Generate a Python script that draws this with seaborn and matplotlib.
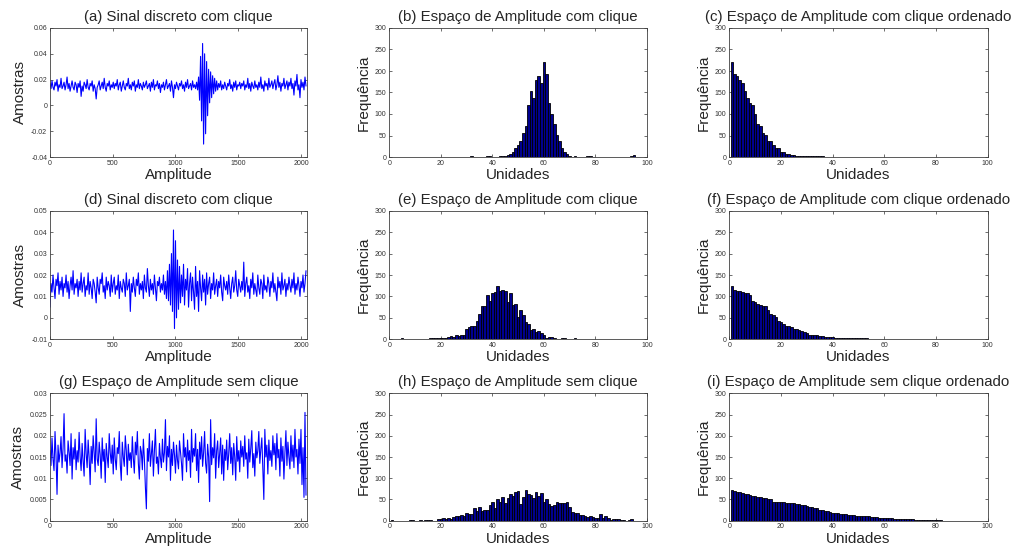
import numpy as np
import pandas as pd
import matplotlib
matplotlib.use("Agg")
import matplotlib.pyplot as plt
from matplotlib.ticker import FuncFormatter
import seaborn as sns

# ---------------- data ----------------
indice_amostra = np.arange(0, 2048, 8)

sinal_a = [
    .017,.013,.019,.014,.012,.018,.015,.020,.011,.016,.014,.021,.013,.015,.018,.012,
    .016,.022,.013,.017,.011,.015,.019,.014,.012,.018,.016,.010,.017,.014,.019,.007,
    .015,.011,.018,.016,.013,.020,.014,.012,.017,.015,.019,.011,.016,.013,.005,.014,
    .016,.019,.012,.015,.018,.013,.021,.014,.011,.017,.015,.019,.012,.016,.014,.018,
    .013,.017,.015,.020,.012,.016,.018,.011,.015,.019,.014,.012,.017,.015,.021,.013,
    .016,.012,.018,.015,.019,.011,.016,.014,.020,.013,.017,.015,.012,.018,.014,.016,
    .019,.013,.015,.017,.011,.018,.014,.020,.012,.016,.015,.019,.013,.017,.010,.016,
    .014,.018,.012,.016,.020,.013,.015,.017,.011,.019,.014,.006,.016,.013,.018,.015,
    .012,.017,.015,.019,.013,.016,.011,.018,.014,.020,.013,.015,.017,.012,.019,.014,
    .016,.013,.018,.012,.022,.004,.038,-.012,.048,-.030,.040,-.022,.034,-.008,.028,.002,
    .026,.006,.023,.009,.021,.011,.019,.012,.017,.014,.019,.012,.016,.013,.018,.015,
    .012,.017,.015,.020,.013,.016,.011,.018,.014,.019,.012,.016,.015,.018,.013,.017,
    .015,.019,.012,.016,.014,.021,.013,.017,.011,.018,.015,.013,.019,.014,.016,.012,
    .018,.014,.022,.013,.016,.011,.019,.015,.017,.012,.021,.014,.016,.019,.013,.017,
    .020,.012,.016,.023,.014,.018,.011,.017,.015,.021,.013,.016,.019,.012,.018,.015,
    .021,.013,.017,.008,.019,.015,.024,.012,.016,.006,.020,.014,.018,.012,.022,.015,
]

sinal_d = [
    .005,.016,.012,.020,.014,.009,.018,.015,.021,.011,.017,.013,.019,.010,.016,.014,
    .020,.012,.017,.009,.015,.019,.013,.022,.011,.016,.014,.018,.010,.017,.013,.021,
    .012,.016,.019,.010,.015,.013,.021,.011,.017,.014,.009,.018,.016,.012,.007,.019,
    .014,.011,.018,.016,.021,.012,.015,.009,.019,.013,.017,.015,.010,.020,.012,.016,
    .019,.011,.015,.013,.020,.009,.017,.014,.012,.018,.016,.010,.021,.013,.015,.018,
    .003,.016,.012,.019,.014,.010,.018,.015,.021,.011,.016,.013,.017,.009,.020,.014,
    .012,.023,.015,.010,.018,.013,.016,.011,.020,.014,.008,.017,.015,.019,.012,.016,
    .013,.020,.011,.017,.009,.022,.008,.025,.006,.030,.003,.041,-.005,.036,.000,.027,
    .004,.024,.007,.020,.010,.025,.006,.018,.013,.023,.005,.016,.021,.008,.019,.012,
    .004,.024,.010,.017,.003,.022,.014,.008,.020,.012,.018,.006,.021,.011,.016,.019,
    .009,.016,.013,.021,.011,.015,.018,.010,.017,.014,.020,.012,.008,.019,.015,.013,
    .017,.011,.020,.014,.009,.016,.019,.012,.015,.022,.013,.010,.018,.015,.012,.017,
    .013,.026,.010,.016,.019,.012,.015,.009,.018,.014,.021,.011,.016,.013,.010,.020,
    .014,.011,.018,.016,.009,.020,.013,.015,.012,.019,.016,.010,.017,.014,.021,.012,
    .016,.012,.008,.019,.014,.017,.011,.021,.013,.015,.018,.010,.016,.013,.019,.015,
    .012,.018,.014,.021,.011,.016,.013,.019,.015,.010,.017,.014,.020,.012,.016,.022,
]

sinal_g = [
    .0165,.0130,.0195,.0145,.0118,.0210,.0152,.0062,.0178,.0138,.0160,.0198,.0125,.0170,.0252,.0140,
    .0155,.0112,.0188,.0162,.0130,.0205,.0098,.0172,.0145,.0192,.0120,.0165,.0138,.0208,.0150,.0118,
    .0182,.0140,.0105,.0215,.0158,.0125,.0190,.0148,.0085,.0175,.0135,.0200,.0160,.0115,.0240,.0145,
    .0130,.0185,.0155,.0100,.0195,.0140,.0168,.0090,.0182,.0150,.0125,.0205,.0160,.0135,.0178,.0110,
    .0195,.0145,.0120,.0172,.0158,.0210,.0132,.0095,.0185,.0150,.0128,.0200,.0165,.0108,.0180,.0142,
    .0160,.0125,.0198,.0148,.0112,.0185,.0155,.0210,.0135,.0098,.0175,.0162,.0120,.0192,.0145,.0080,
    .0028,.0170,.0140,.0205,.0128,.0158,.0188,.0105,.0165,.0215,.0135,.0150,.0110,.0182,.0148,.0125,
    .0192,.0138,.0160,.0238,.0118,.0175,.0150,.0200,.0095,.0168,.0130,.0185,.0155,.0112,.0178,.0142,
    .0122,.0188,.0160,.0135,.0095,.0205,.0150,.0172,.0115,.0190,.0142,.0165,.0102,.0215,.0138,.0170,
    .0152,.0205,.0118,.0168,.0090,.0185,.0145,.0198,.0128,.0160,.0210,.0135,.0112,.0180,.0150,.0045,
    .0238,.0132,.0172,.0148,.0205,.0100,.0165,.0188,.0125,.0158,.0195,.0110,.0178,.0095,.0168,.0142,
    .0190,.0120,.0158,.0205,.0135,.0172,.0108,.0182,.0150,.0095,.0198,.0140,.0165,.0115,.0188,.0150,
    .0175,.0128,.0200,.0145,.0160,.0100,.0192,.0138,.0170,.0212,.0125,.0158,.0105,.0185,.0148,.0165,
    .0210,.0135,.0168,.0195,.0120,.0050,.0215,.0150,.0178,.0110,.0190,.0142,.0165,.0128,.0200,.0155,
    .0182,.0120,.0205,.0148,.0168,.0105,.0195,.0140,.0175,.0098,.0160,.0212,.0130,.0185,.0150,.0122,
    .0200,.0140,.0178,.0125,.0215,.0150,.0168,.0110,.0192,.0135,.0215,.0085,.0172,.0055,.0255,.0060,
]

unidades = np.arange(1, 101)

freq_b = [
    0, 0, 0, 0, 0, 0, 0, 0, 0, 1,      # 1-10
    0, 1, 0, 0, 0, 0, 0, 0, 0, 0,      # 11-20
    1, 0, 0, 0, 1, 0, 0, 0, 0, 0,      # 21-30
    0, 3, 0, 0, 0, 1, 1, 2, 2, 1,      # 31-40
    0, 1, 2, 2, 3, 5, 7, 12, 20, 28,   # 41-50
    37, 55, 72, 120, 153, 137, 180, 189, 171, 222,  # 51-60
    194, 125, 101, 76, 52, 37, 20, 12, 7, 3,        # 61-70
    1, 3, 1, 0, 0, 0, 3, 2, 0, 1,      # 71-80
    0, 1, 0, 0, 1, 0, 0, 1, 0, 0,      # 81-90
    1, 0, 0, 3, 4, 0, 0, 0, 1, 0,      # 91-100
]

freq_e = [
    0, 0, 0, 0, 3, 0, 0, 0, 0, 0,      # 1-10
    0, 0, 1, 0, 0, 2, 2, 3, 4, 4,      # 11-20
    3, 3, 6, 8, 6, 10, 8, 9, 11, 23,   # 21-30
    28, 31, 32, 42, 58, 77, 78, 104, 90, 109,       # 31-40
    110, 125, 112, 114, 113, 88, 109, 80, 83, 53,   # 41-50
    68, 56, 41, 35, 22, 24, 17, 20, 14, 10,         # 51-60
    4, 6, 6, 2, 1, 0, 3, 2, 1, 0,      # 61-70
    0, 2, 1, 0, 0, 0, 0, 0, 0, 1,      # 71-80
    0, 1, 0, 0, 0, 0, 0, 0, 0, 1,      # 81-90
    0, 0, 0, 0, 0, 0, 0, 0, 0, 0,      # 91-100
]

freq_h = [
    2, 0, 0, 0, 0, 0, 0, 1, 1, 0,      # 1-10
    0, 2, 0, 1, 1, 2, 0, 0, 3, 5,      # 11-20
    7, 5, 6, 5, 9, 10, 11, 13, 12, 19, # 21-30
    16, 15, 30, 22, 32, 24, 26, 25, 37, 44,   # 31-40
    30, 52, 45, 56, 42, 53, 62, 57, 67, 70,   # 41-50
    40, 56, 72, 64, 60, 54, 67, 58, 66, 43,   # 51-60
    50, 40, 35, 37, 44, 41, 41, 41, 43, 33,   # 61-70
    20, 19, 17, 13, 13, 11, 8, 10, 8, 7,      # 71-80
    6, 16, 6, 10, 7, 1, 4, 4, 4, 1,           # 81-90
    1, 0, 2, 4, 0, 0, 0, 0, 0, 0,             # 91-100
]

titulos = [
    "(a) Sinal discreto com clique",
    "(b) Espaço de Amplitude com clique",
    "(c) Espaço de Amplitude com clique ordenado",
    "(d) Sinal discreto com clique",
    "(e) Espaço de Amplitude com clique",
    "(f) Espaço de Amplitude com clique ordenado",
    "(g) Espaço de Amplitude sem clique",
    "(h) Espaço de Amplitude sem clique",
    "(i) Espaço de Amplitude sem clique ordenado",
]

# ---------------- style ----------------
sns.set_style("ticks")
plt.rcParams["font.family"] = ["Liberation Sans", "DejaVu Sans"]

LINE_BLUE = "#0000FF"
BAR_NAVY = "#00008F"

fig = plt.figure(figsize=(10.16, 5.54), dpi=100)

col_left = [50 / 1016, 389.3 / 1016, 729.3 / 1016]
col_w = [257 / 1016, 257.7 / 1016, 258.4 / 1016]
row_bottom = [1 - 157 / 554, 1 - 339.3 / 554, 1 - 520.7 / 554]
row_h = [129 / 554, 128.6 / 554, 127.4 / 554]

fmt = FuncFormatter(lambda v, p: "%g" % round(v, 6))


def style_axes(ax):
    ax.tick_params(direction="in", length=2.5, width=0.5, top=True, right=True,
                   labelsize=5.0, colors="#333333", pad=2)
    for s in ax.spines.values():
        s.set_visible(True)
        s.set_linewidth(0.6)
        s.set_color("#404040")


axes = {}
for r in range(3):
    for c in range(3):
        axes[(r, c)] = fig.add_axes([col_left[c], row_bottom[r], col_w[c], row_h[r]])

signals = [(sinal_a, (-0.04, 0.06), np.arange(-0.04, 0.0601, 0.02)),
           (sinal_d, (-0.01, 0.05), np.arange(-0.01, 0.0501, 0.01)),
           (sinal_g, (0.0, 0.03), np.arange(0.0, 0.0301, 0.005))]
hists = [freq_b, freq_e, freq_h]

TITLE_FS = 10.8
LABEL_FS = 11

for r in range(3):
    # signal
    ax = axes[(r, 0)]
    sig, ylim, yt = signals[r]
    df = pd.DataFrame({"x": indice_amostra, "y": sig})
    sns.lineplot(data=df, x="x", y="y", ax=ax, color=LINE_BLUE, linewidth=0.8,
                 estimator=None, sort=False)
    ax.set_xlim(0, 2048)
    ax.set_ylim(*ylim)
    ax.set_xticks([0, 500, 1000, 1500, 2000])
    ax.set_yticks(yt)
    ax.yaxis.set_major_formatter(fmt)
    ax.set_xlabel("Amplitude", fontsize=LABEL_FS, labelpad=1)
    ax.set_ylabel("Amostras", fontsize=LABEL_FS, labelpad=3)
    ax.set_title(titulos[r * 3], fontsize=TITLE_FS, pad=5)
    style_axes(ax)

    # histogram
    counts = np.array(hists[r])
    for c, vals in ((1, counts), (2, np.sort(counts)[::-1])):
        ax = axes[(r, c)]
        hdf = pd.DataFrame({"u": unidades, "f": vals})
        sns.histplot(data=hdf, x="u", weights="f", discrete=True, ax=ax,
                     color=BAR_NAVY, edgecolor="black", linewidth=0.6, alpha=1.0)
        ax.set_xlim(0, 100)
        ax.set_ylim(0, 300)
        ax.set_xticks([0, 20, 40, 60, 80, 100])
        ax.set_yticks([0, 50, 100, 150, 200, 250, 300])
        ax.set_xlabel("Unidades", fontsize=LABEL_FS, labelpad=1)
        ax.set_ylabel("Frequência", fontsize=LABEL_FS, labelpad=3)
        ax.set_title(titulos[r * 3 + c], fontsize=TITLE_FS, pad=5)
        style_axes(ax)

fig.savefig("out.png", dpi=100)
